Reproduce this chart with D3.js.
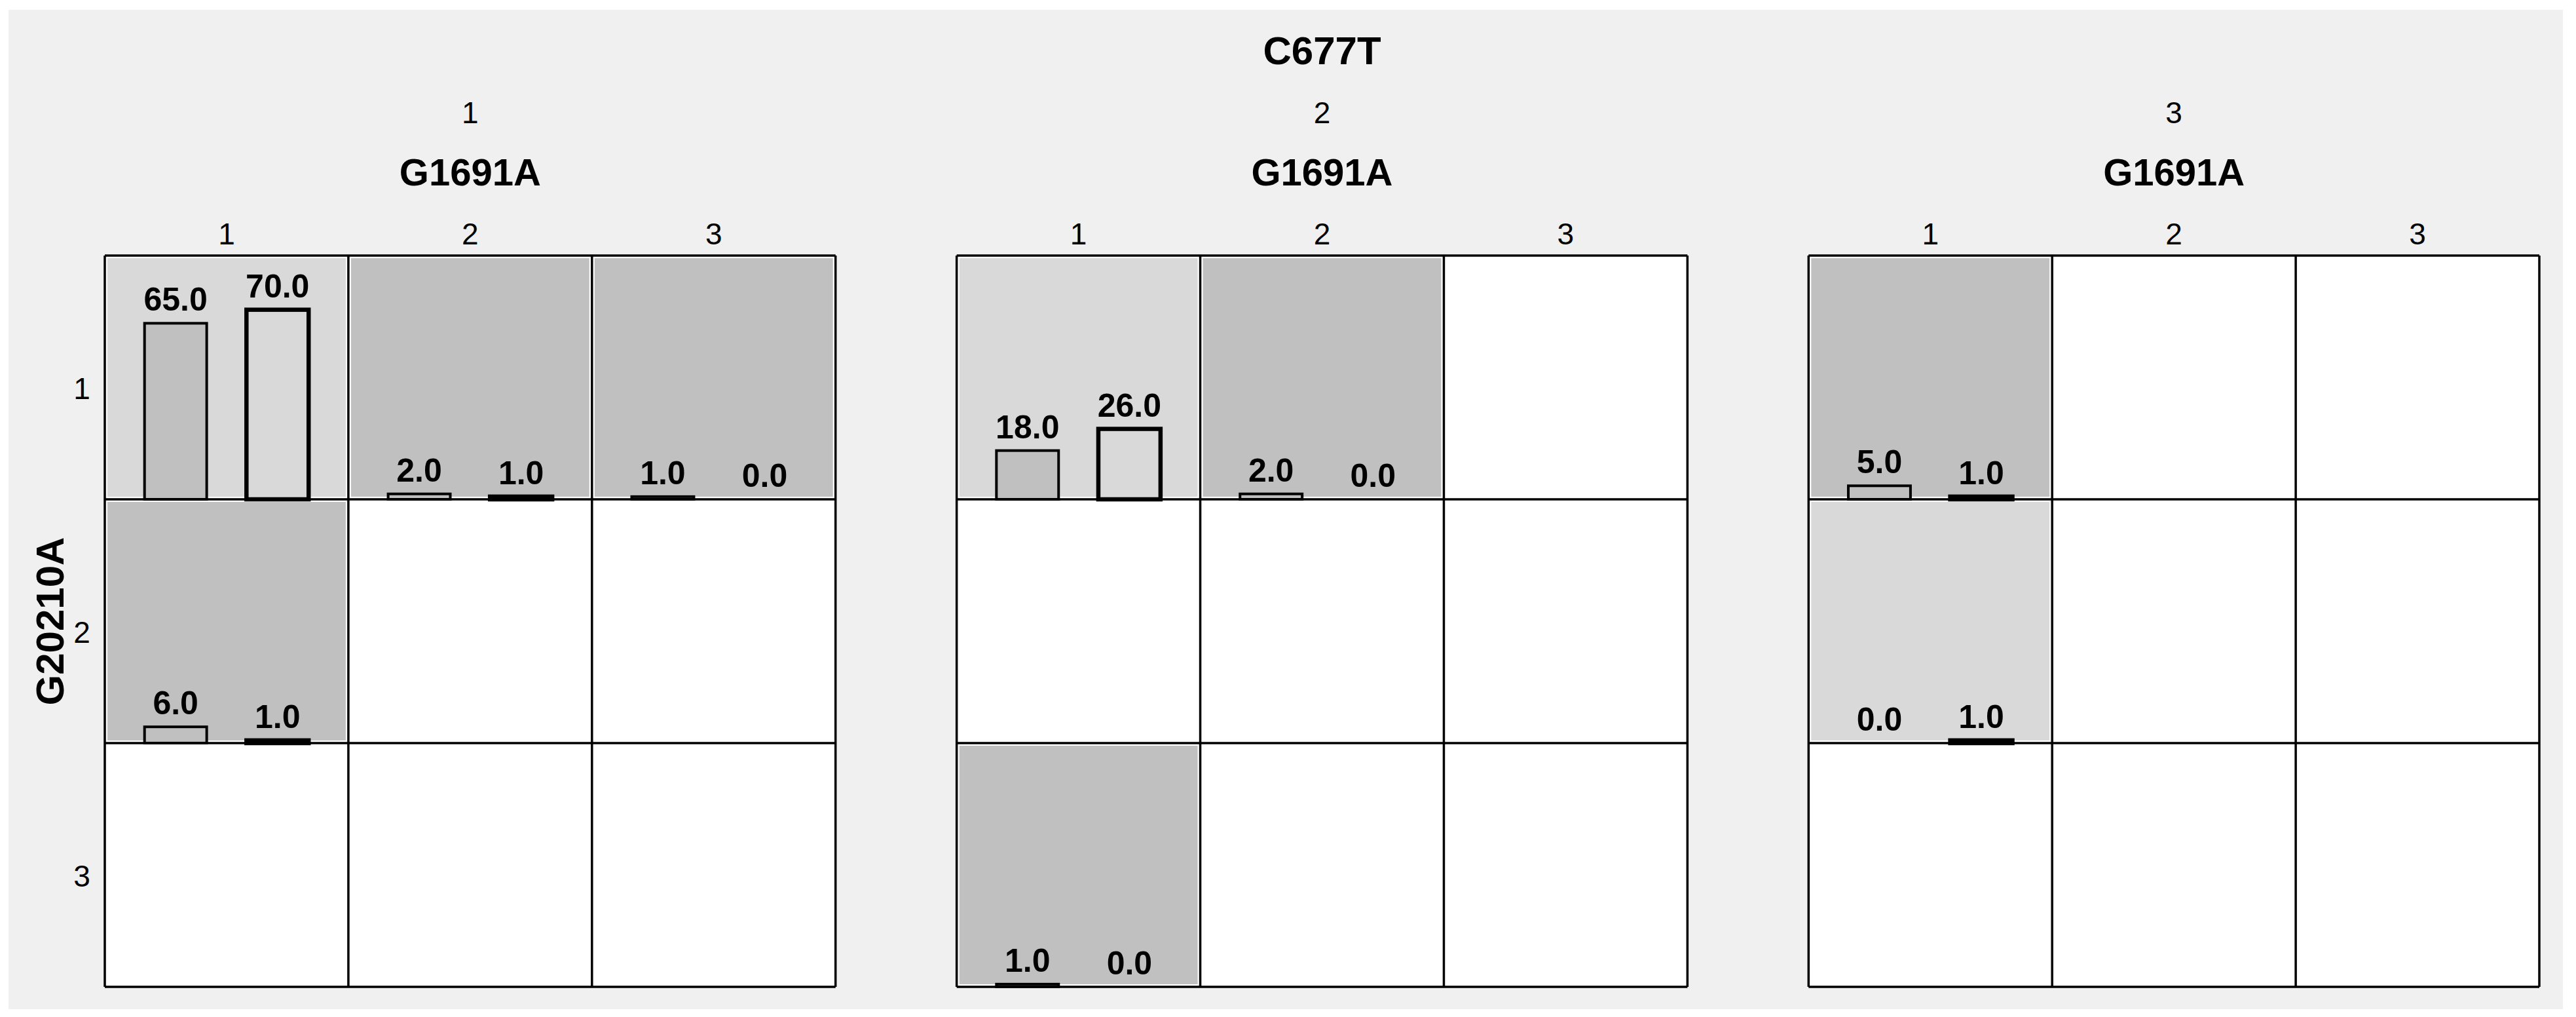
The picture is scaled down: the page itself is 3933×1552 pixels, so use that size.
<!DOCTYPE html>
<html>
<head>
<meta charset="utf-8">
<script src="https://cdn.jsdelivr.net/npm/d3@7"></script>
<style>
  body { margin: 0; background: #fff; }
  text { font-family: "Liberation Sans", Arial, sans-serif; fill: #000; }
</style>
</head>
<body>
<div id="chart"></div>
<script>
// Levels of the three genotypes
const c677tLevels = ["1", "2", "3"];
const g1691aLevels = ["1", "2", "3"];
const g20210aLevels = ["1", "2", "3"];

// One entry per non-empty cell
const cellC677T   = ["1", "1", "1", "1", "2", "2", "2", "3", "3"];
const cellG20210A = ["1", "1", "1", "2", "1", "1", "3", "1", "2"];
const cellG1691A  = ["1", "2", "3", "1", "1", "2", "1", "1", "1"];
const seriesA     = [65, 2, 1, 6, 18, 2, 1, 5, 0];
const seriesB     = [70, 1, 0, 1, 26, 0, 0, 1, 1];

const W = 3933, H = 1552;
const GRID = { left: 160, right: 3877, top: 390, bottom: 1506 };
const COLORS = { page: "#f0f0f0", a: "#c0c0c0", b: "#d9d9d9", empty: "#ffffff" };
const FONT = { title: 60, level: 46, value: 50 };

const cells = cellC677T.map((c, i) => ({
    c677t: c, g20210a: cellG20210A[i], g1691a: cellG1691A[i],
    values: [seriesA[i], seriesB[i]]
}));

const panelX = d3.scaleBand().domain(c677tLevels)
    .range([GRID.left, GRID.right]).paddingInner(0.1422);
const colX = d3.scaleBand().domain(g1691aLevels).range([0, panelX.bandwidth()]);
const rowY = d3.scaleBand().domain(g20210aLevels).range([GRID.top, GRID.bottom]);
const barX = d3.scaleBand().domain([0, 1]).range([0, colX.bandwidth()]).padding(0.39);
const valueY = d3.scaleLinear().domain([0, 90]).range([rowY.bandwidth(), 0]);
const fmt = d3.format(".1f");

const svg = d3.select("#chart").append("svg")
    .attr("width", W).attr("height", H)
    .attr("viewBox", [0, 0, W, H]);

svg.append("rect").attr("x", 13).attr("y", 15)
    .attr("width", 3900).attr("height", 1525).attr("fill", COLORS.page);

// Top headings
svg.append("text").attr("x", (GRID.left + GRID.right) / 2).attr("y", 98)
    .attr("text-anchor", "middle").attr("font-size", FONT.title).attr("font-weight", "bold")
    .text("C677T");

const panels = svg.selectAll("g.panel").data(c677tLevels).join("g")
    .attr("class", "panel")
    .attr("transform", d => `translate(${panelX(d)},0)`);

panels.append("text").attr("x", panelX.bandwidth() / 2).attr("y", 188)
    .attr("text-anchor", "middle").attr("font-size", FONT.level).text(d => d);

panels.append("text").attr("x", panelX.bandwidth() / 2).attr("y", 283)
    .attr("text-anchor", "middle").attr("font-size", FONT.title - 2).attr("font-weight", "bold")
    .text("G1691A");

panels.selectAll("text.col").data(g1691aLevels).join("text")
    .attr("class", "col")
    .attr("x", d => colX(d) + colX.bandwidth() / 2).attr("y", 373)
    .attr("text-anchor", "middle").attr("font-size", FONT.level).text(d => d);

// Row headings
svg.selectAll("text.row").data(g20210aLevels).join("text")
    .attr("class", "row")
    .attr("x", 125).attr("y", d => rowY(d) + rowY.bandwidth() / 2 + 33)
    .attr("text-anchor", "middle").attr("font-size", FONT.level).text(d => d);

svg.append("text")
    .attr("transform", `translate(97,${(GRID.top + GRID.bottom) / 2}) rotate(-90)`)
    .attr("text-anchor", "middle").attr("font-size", FONT.title).attr("font-weight", "bold")
    .text("G20210A");

// Cell backgrounds, bars and grid
const cellW = colX.bandwidth(), cellH = rowY.bandwidth();
panels.each(function (p) {
    const g = d3.select(this);
    const grid = [];
    g20210aLevels.forEach(r => g1691aLevels.forEach(c => grid.push({ r, c })));
    g.selectAll("rect.bg").data(grid).join("rect")
        .attr("class", "bg")
        .attr("x", d => colX(d.c)).attr("y", d => rowY(d.r))
        .attr("width", cellW).attr("height", cellH).attr("fill", COLORS.empty);

    const filled = cells.filter(d => d.c677t === p);
    g.selectAll("rect.fill").data(filled).join("rect")
        .attr("class", "fill")
        .attr("x", d => colX(d.g1691a) + 4).attr("y", d => rowY(d.g20210a) + 4)
        .attr("width", cellW - 8).attr("height", cellH - 8)
        .attr("fill", d => d.values[1] > d.values[0] ? COLORS.b : COLORS.a);

    const cg = g.selectAll("g.cell").data(filled).join("g")
        .attr("class", "cell")
        .attr("transform", d => `translate(${colX(d.g1691a)},${rowY(d.g20210a)})`);

    const bars = d => d.values.map((v, i) => ({ v, i }));
    cg.selectAll("rect.bar").data(d => bars(d).filter(b => b.v > 0)).join("rect")
        .attr("class", "bar")
        .attr("x", b => barX(b.i)).attr("y", b => valueY(b.v))
        .attr("width", barX.bandwidth()).attr("height", b => cellH - valueY(b.v))
        .attr("fill", b => b.i === 0 ? COLORS.a : COLORS.b)
        .attr("stroke", "#000").attr("stroke-width", b => b.i === 0 ? 4 : 6.5);

    cg.selectAll("text.val").data(bars).join("text")
        .attr("class", "val")
        .attr("x", b => barX(b.i) + barX.bandwidth() / 2)
        .attr("y", b => valueY(b.v) - 19)
        .attr("text-anchor", "middle").attr("font-size", FONT.value).attr("font-weight", "bold")
        .text(b => fmt(b.v));

    const lines = g.append("g").attr("stroke", "#000").attr("stroke-width", 3.5);
    const xs = g1691aLevels.map(c => colX(c)).concat(panelX.bandwidth());
    const ys = g20210aLevels.map(r => rowY(r)).concat(GRID.bottom);
    lines.selectAll("line.v").data(xs).join("line").attr("class", "v")
        .attr("x1", d => d).attr("x2", d => d).attr("y1", GRID.top).attr("y2", GRID.bottom);
    lines.selectAll("line.h").data(ys).join("line").attr("class", "h")
        .attr("x1", 0).attr("x2", panelX.bandwidth()).attr("y1", d => d).attr("y2", d => d);
});
</script>
</body>
</html>
